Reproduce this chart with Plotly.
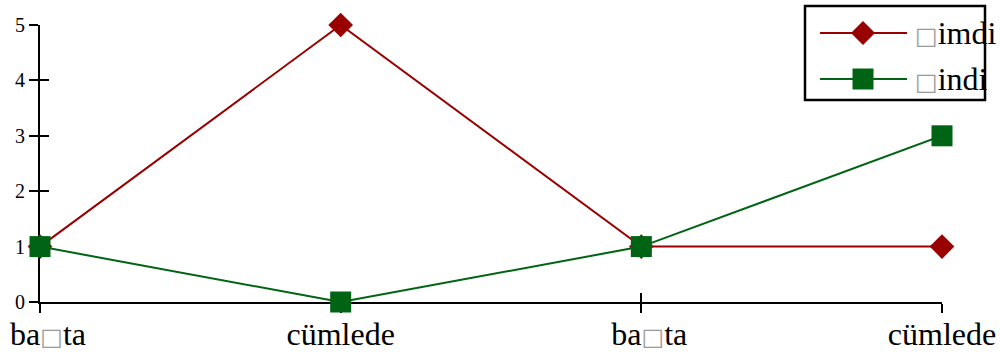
import plotly.graph_objects as go

BOX = "<span style='color:#9a9a9a;font-family:DejaVu Sans;font-size:24px'>□</span>"
categories = ["\u2002ba" + BOX + "ta", "cümlede", "\u2002ba" + BOX + "ta", "cümlede"]
series_names = [BOX + "imdi", BOX + "indi"]
simdi = [1, 5, 1, 1]
sindi = [1, 0, 1, 3]
yticks = [0, 1, 2, 3, 4, 5]

xpos = list(range(len(categories)))
red = "#990000"
green = "#006414"
font = "Liberation Serif"

W, H = 1000, 354
ML, MR, MT, MB = 40, 58, 25, 52
PW, PH = W - ML - MR, H - MT - MB


def px(x):
    return (x - ML) / PW


def py(y):
    return (H - MB - y) / PH


fig = go.Figure()
# dummy trace on base axes (outer ticks)
fig.add_trace(go.Scatter(x=[0], y=[0], mode="markers", marker=dict(opacity=0),
                         showlegend=False, hoverinfo="skip"))
fig.add_trace(go.Scatter(x=xpos, y=simdi, name=series_names[0], mode="lines+markers",
                         xaxis="x2", yaxis="y2",
                         line=dict(color=red, width=2),
                         marker=dict(symbol="diamond", size=19, color=red), cliponaxis=False))
fig.add_trace(go.Scatter(x=xpos, y=sindi, name=series_names[1], mode="lines+markers",
                         xaxis="x2", yaxis="y2",
                         line=dict(color=green, width=2),
                         marker=dict(symbol="square", size=21, color=green), cliponaxis=False))

axis_common = dict(showgrid=False, zeroline=False, tickwidth=2, tickcolor="black", ticklen=9)
fig.update_layout(
    width=W, height=H,
    margin=dict(l=ML, r=MR, t=MT, b=MB, autoexpand=False),
    paper_bgcolor="white", plot_bgcolor="white",
    font=dict(family=font, color="black"),
    showlegend=False,
    xaxis=dict(range=[0, 3], tickvals=xpos, ticktext=categories, showline=True, linecolor="black",
               linewidth=2, ticks="outside", tickfont=dict(size=32, family=font), layer="below traces",
               ticklabelstandoff=-6, ticklabeloverflow="allow", **axis_common),
    xaxis2=dict(range=[0, 3], tickvals=xpos, showticklabels=False, overlaying="x", ticks="inside",
                layer="below traces", **axis_common),
    yaxis=dict(range=[0, 5], tickvals=yticks, showline=True, linecolor="black", linewidth=2,
               ticks="outside", tickfont=dict(size=20, family=font), layer="below traces",
               ticklabeloverflow="allow", **axis_common),
    yaxis2=dict(range=[0, 5], tickvals=yticks, showticklabels=False, overlaying="y", ticks="inside",
                layer="below traces", **axis_common),
)

# manual legend
shapes = [dict(type="rect", xref="paper", yref="paper", x0=px(805), x1=px(985), y0=py(100), y1=py(6),
               line=dict(color="black", width=2.5), fillcolor="white", layer="above")]
legend_items = [(series_names[0], red, "diamond", 33), (series_names[1], green, "square", 79)]
for name, col, sym, yc in legend_items:
    shapes.append(dict(type="line", xref="paper", yref="paper", x0=px(820), x1=px(907), y0=py(yc), y1=py(yc),
                       line=dict(color=col, width=2), layer="above"))
    cx = 863
    if sym == "diamond":
        r = 12
        path = "M {} {} L {} {} L {} {} L {} {} Z".format(px(cx - r), py(yc), px(cx), py(yc - r),
                                                          px(cx + r), py(yc), px(cx), py(yc + r))
    else:
        r = 10.5
        path = "M {} {} L {} {} L {} {} L {} {} Z".format(px(cx - r), py(yc - r), px(cx + r), py(yc - r),
                                                          px(cx + r), py(yc + r), px(cx - r), py(yc + r))
    shapes.append(dict(type="path", xref="paper", yref="paper", path=path, fillcolor=col,
                       line=dict(color=col, width=0), layer="above"))
    fig.add_annotation(x=px(913), y=py(yc), xref="paper", yref="paper", xanchor="left", yanchor="middle",
                       text=name, showarrow=False, font=dict(size=32, family=font, color="black"))
fig.update_layout(shapes=shapes)
fig.write_html("out.html", config={"displayModeBar": False},
               post_script="document.body.style.margin='0px';document.body.style.overflow='hidden';")
